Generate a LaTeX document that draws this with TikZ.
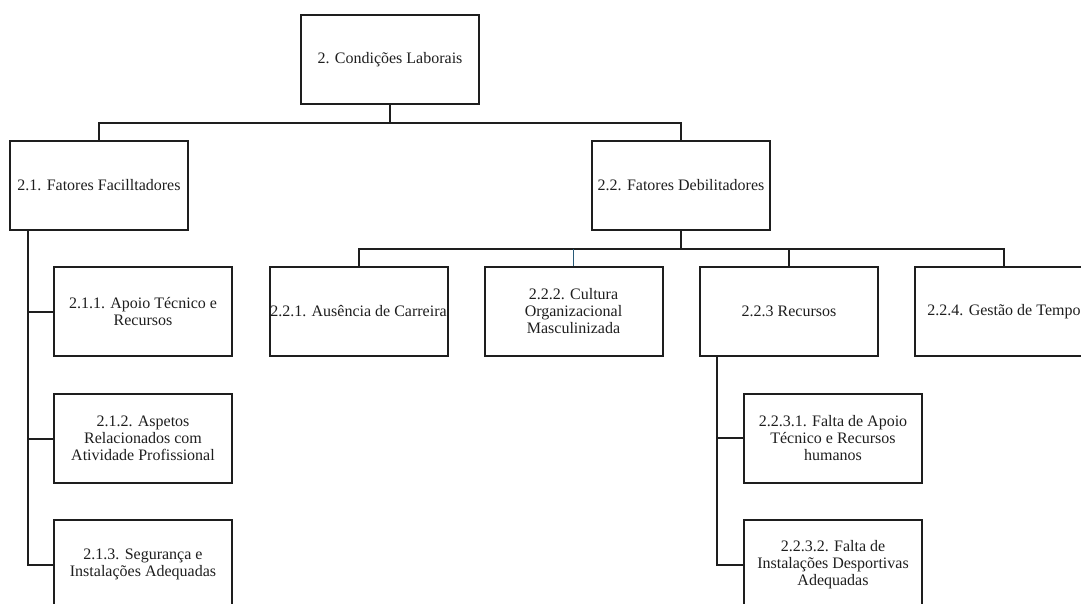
\documentclass[tikz,border=0pt]{standalone}
\usepackage{fontspec}
\setmainfont{Liberation Serif}
\definecolor{dropblue}{RGB}{40,90,120}
\definecolor{ink}{RGB}{30,30,30}
\tikzset{
  box/.style={draw=ink, line width=1.5pt, minimum width=133.5pt, minimum height=66.75pt,
    inner sep=0pt, align=center, text=ink, font=\fontsize{12}{12.75}\selectfont},
  link/.style={draw=ink, line width=1.5pt},
  bluelink/.style={draw=dropblue, line width=1pt}
}
\begin{document}
\begin{tikzpicture}[x=0.75pt, y=-0.75pt]
\useasboundingbox (0,0) rectangle (1081,603);
\clip (0,0) rectangle (1081,603);
% nodes
\node[box] (top) at (390,59.5) {2. Condições Laborais};
\node[box] (f1) at (99,185.5) {2.1. Fatores Facilltadores};
\node[box] (f2) at (681,185.5) {2.2. Fatores Debilitadores};
\node[box] (a1) at (143,311.5) {2.1.1. Apoio Técnico e\\Recursos};
\node[box] (a2) at (143,438.5) {2.1.2. Aspetos\\Relacionados com\\Atividade Profissional};
\node[box] (a3) at (143,564.5) {2.1.3. Segurança e\\Instalações Adequadas};
\node[box] (b1) at (358.5,311.5) {2.2.1. Ausência de Carreira};
\node[box] (b2) at (573.5,311.5) {2.2.2. Cultura\\Organizacional\\Masculinizada};
\node[box] (b3) at (789,311.5) {2.2.3 Recursos};
\node[box] (b4) at (1004,311.5) {2.2.4. Gestão de Tempo};
\node[box] (c1) at (833,438) {2.2.3.1. Falta de Apoio\\Técnico e Recursos\\humanos};
\node[box] (c2) at (833,564.5) {2.2.3.2. Falta de\\Instalações Desportivas\\Adequadas};
% bus coordinates
\coordinate (bus1) at (390,123);
\coordinate (bus2) at (681,248.5);
\coordinate (lt) at (28,230);
\coordinate (rt) at (717,356);
% connectors
\draw[link] (top.south) -- (bus1);
\draw[link] (f1.north) |- (bus1) -| (f2.north);
\draw[link] (f2.south) -- (bus2);
\draw[link] (b1.north) |- (bus2) -| (b4.north);
\draw[link] (b3.north) -- (b3.north |- bus2);
\draw[bluelink] (b2.north) -- (b2.north |- bus2);
\draw[link] (lt) |- (a3.west);
\draw[link] (a1.west) -- (a1.west -| lt);
\draw[link] (a2.west) -- (a2.west -| lt);
\draw[link] (rt) |- (c2.west);
\draw[link] (c1.west) -- (c1.west -| rt);
\end{tikzpicture}
\end{document}
